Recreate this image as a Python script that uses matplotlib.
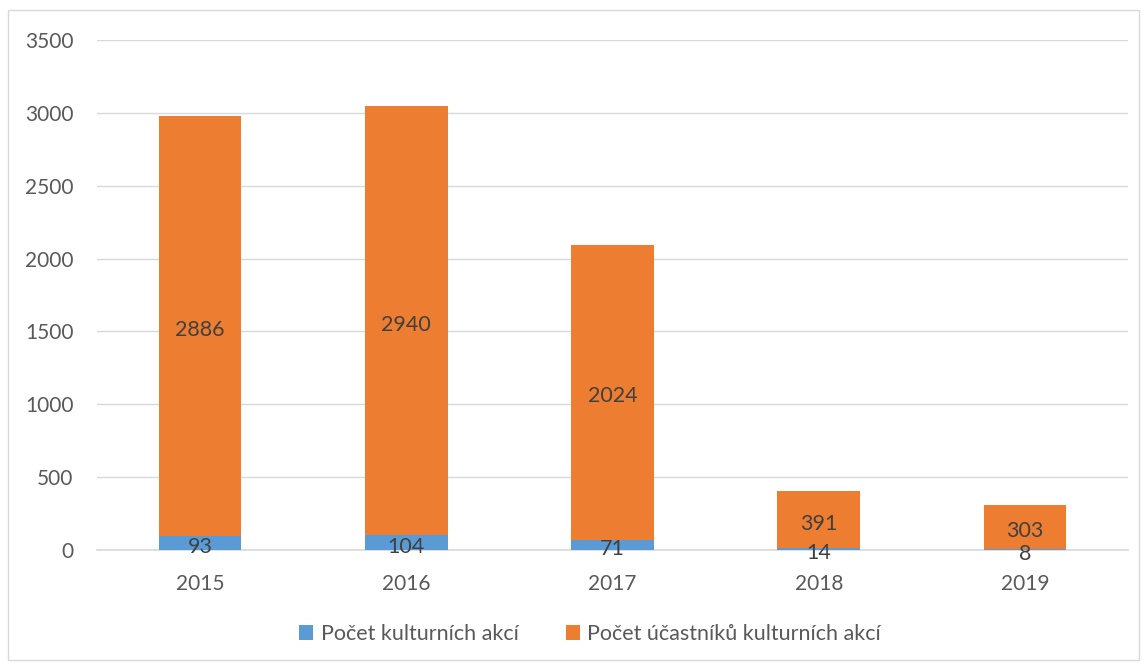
import matplotlib
matplotlib.use("Agg")
import matplotlib.pyplot as plt
from matplotlib.patches import Rectangle

years = ["2015", "2016", "2017", "2018", "2019"]
akce = [93, 104, 71, 14, 8]
ucastnici = [2886, 2940, 2024, 391, 303]
series_names = ["Počet kulturních akcí", "Počet účastníků kulturních akcí"]
yticks = [0, 500, 1000, 1500, 2000, 2500, 3000, 3500]

plt.rcParams['font.family'] = ['Lato', 'DejaVu Sans']
txt = '#595959'

fig = plt.figure(figsize=(11.46, 6.66), dpi=100)
ax = fig.add_axes([97/1146, 1-550/666, 1031/1146, 510/666])
fig.patches.append(Rectangle((8/1146, 6/666), 1131/1146, 650/666, transform=fig.transFigure,
                             fill=False, edgecolor='#d9d9d9', linewidth=1))

x = range(len(years))
w = 0.4
b1 = ax.bar(x, akce, w, color='#5b9bd5', label=series_names[0], zorder=3)
b2 = ax.bar(x, ucastnici, w, bottom=akce, color='#ed7d31', label=series_names[1], zorder=3)
ax.bar_label(b1, labels=[str(v) for v in akce], label_type='center', fontsize=15.5,
             color='#404040', zorder=4, padding=-3)
ax.bar_label(b2, labels=[str(v) for v in ucastnici], label_type='center', fontsize=15.5,
             color='#404040', zorder=4, padding=-3)

ax.set_xlim(-0.5, len(years) - 0.5)
ax.set_ylim(0, 3500)
ax.set_yticks(yticks)
ax.set_xticks(list(x))
ax.set_xticklabels(years)
ax.grid(axis='y', color='#d9d9d9', linewidth=1, zorder=0)
for s in ['top', 'right', 'left']:
    ax.spines[s].set_visible(False)
ax.spines['bottom'].set_color('#d9d9d9')
ax.spines['bottom'].set_linewidth(1.2)
ax.tick_params(axis='both', length=0, labelsize=15, labelcolor=txt)
ax.tick_params(axis='y', pad=17)
ax.tick_params(axis='x', pad=17)

fig.legend(loc='center', bbox_to_anchor=(590/1146, 1-634/666), ncol=2, frameon=False,
           fontsize=15.5, labelcolor=txt, handlelength=0.65, handleheight=0.65,
           handletextpad=0.35, columnspacing=2.2)

fig.savefig('out.png', dpi=100)
